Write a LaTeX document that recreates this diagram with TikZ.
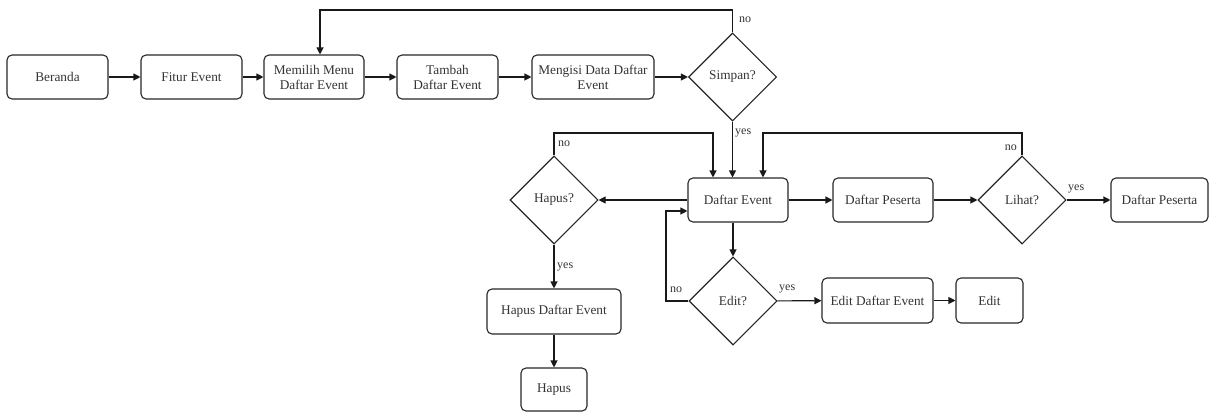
\documentclass[tikz,border=0pt]{standalone}
\usepackage{fontspec}
\setmainfont{Liberation Serif}
\usetikzlibrary{shapes.geometric,arrows.meta}
\begin{document}
\begin{tikzpicture}[x=1pt,y=-1pt,
  box/.style={draw=black!85,line width=1.1pt,rounded corners=5pt,inner sep=0pt,align=center,
    minimum height=44pt,text=black!80,font=\fontsize{13.3}{15}\selectfont},
  dec/.style={draw=black!85,line width=1.1pt,diamond,inner sep=0pt,minimum width=88pt,minimum height=88pt,
    text=black!80,font=\fontsize{13.3}{15}\selectfont},
  arr/.style={draw=black!90,line width=1.1pt,-{Triangle[length=7pt,width=7pt]}},
  lbl/.style={text=black!80,font=\fontsize{12}{14}\selectfont,inner sep=0pt}]
\useasboundingbox (0,0) rectangle (1209,412);
% top row
\node[box,minimum width=101pt] (beranda) at (57.5,77) {Beranda};
\node[box,minimum width=101pt] (fitur) at (191.5,77) {Fitur Event};
\node[box,minimum width=100pt] (memilih) at (314,77) {Memilih Menu\\Daftar Event};
\node[box,minimum width=101pt] (tambah) at (447.5,77) {Tambah\\Daftar Event};
\node[box,minimum width=122pt] (mengisi) at (593,77) {Mengisi Data Daftar\\Event};
\node[dec] (simpan) at (732.5,77) {Simpan?};
% middle row
\node[box,minimum width=100pt] (daftar) at (738,200) {Daftar Event};
\node[dec] (hapusq) at (554,200) {Hapus?};
\node[box,minimum width=100pt] (peserta) at (883,200) {Daftar Peserta};
\node[dec] (lihat) at (1022,200) {Lihat?};
\node[box,minimum width=97pt] (peserta2) at (1159.5,200) {Daftar Peserta};
% lower
\node[dec] (editq) at (733,301) {Edit?};
\node[box,minimum width=111pt,minimum height=45pt] (editde) at (877.5,300.5) {Edit Daftar Event};
\node[box,minimum width=67pt,minimum height=45pt] (edit) at (989.5,300.5) {Edit};
\node[box,minimum width=134pt,minimum height=45pt] (hapusde) at (554,311.5) {Hapus Daftar Event};
\node[box,minimum width=66pt,minimum height=43pt] (hapus) at (554,389.5) {Hapus};
% coordinates for loops
\coordinate (topline) at (0,10);
\coordinate (midline) at (0,133);
\coordinate (editleft) at (666,0);
% connectors top row
\draw[arr] (beranda) -- (fitur);
\draw[arr] (fitur) -- (memilih);
\draw[arr] (memilih) -- (tambah);
\draw[arr] (tambah) -- (mengisi);
\draw[arr] (mengisi) -- (simpan);
\draw[arr] (simpan.north) -- (simpan.north |- topline) -| ([xshift=6pt]memilih.north);
\node[lbl,anchor=west] (nosimpan) at (739,20) {no};
\draw[arr] (simpan.south) -- (simpan.south |- daftar.north);
\node[lbl,anchor=west] (yessimpan) at (735,133) {yes};
% middle
\draw[arr] (daftar) -- (hapusq);
\draw[arr] (hapusq.north) -- (hapusq.north |- midline) -| ([xshift=-25pt]daftar.north);
\node[lbl,anchor=west] (nohapus) at (558,144) {no};
\draw[arr] (daftar) -- (peserta);
\draw[arr] (peserta) -- (lihat);
\draw[arr] (lihat) -- (peserta2);
\node[lbl,anchor=west] (yeslihat) at (1068,189) {yes};
\draw[arr] (lihat.north) -- (lihat.north |- midline) -| ([xshift=25pt]daftar.north);
\node[lbl,anchor=east] (nolihat) at (1017,148) {no};
% edit
\draw[arr] (editq.north |- daftar.south) -- (editq.north);
\draw[arr] (editq.west) -- (editq.west -| editleft) |- ([yshift=-11pt]daftar.west);
\node[lbl,anchor=west] (noedit) at (670,290) {no};
\draw[arr] (editq) -- (editde);
\node[lbl,anchor=west] (yesedit) at (779,289) {yes};
\draw[arr] (editde) -- (edit);
% hapus
\draw[arr] (hapusq) -- (hapusde);
\node[lbl,anchor=west] (yeshapus) at (557,267) {yes};
\draw[arr] (hapusde) -- (hapus);
\end{tikzpicture}
\end{document}
